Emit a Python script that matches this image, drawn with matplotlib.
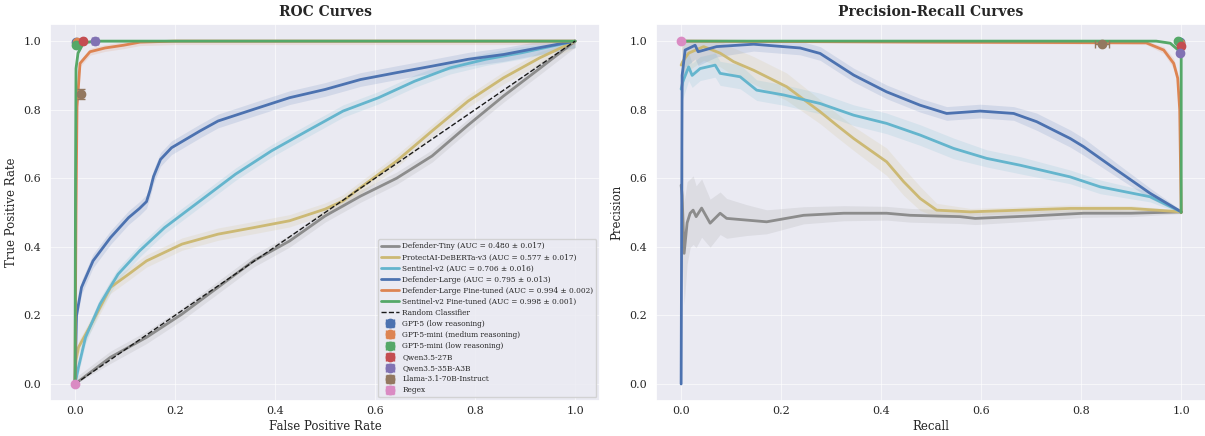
import numpy as np
import matplotlib
matplotlib.use("Agg")
import matplotlib.pyplot as plt
import seaborn as sns

sns.set_theme(style="darkgrid", rc={"grid.alpha": 0.6, "grid.linewidth": 0.8})
plt.rcParams['font.family'] = ['DejaVu Serif']

pal = sns.color_palette("deep")
c_blue, c_orange, c_green, c_red, c_purple, c_brown, c_pink, c_gray, c_yellow, c_cyan = pal

# ---------------- ROC curves (mean) ----------------
tiny_fpr = [0, 0.071, 0.143, 0.214, 0.286, 0.357, 0.429, 0.5, 0.571, 0.643, 0.714, 0.786, 0.857, 0.929, 1.0]
tiny_tpr = [0, 0.078, 0.136, 0.204, 0.282, 0.359, 0.417, 0.49, 0.548, 0.6, 0.665, 0.755, 0.84, 0.92, 1.0]

deb_fpr = [0, 0.002, 0.007, 0.036, 0.071, 0.107, 0.143, 0.214, 0.286, 0.357, 0.429, 0.5, 0.536, 0.571,
           0.643, 0.714, 0.786, 0.857, 0.929, 1.0]
deb_tpr = [0, 0.07, 0.107, 0.184, 0.282, 0.32, 0.359, 0.408, 0.437, 0.456, 0.476, 0.51, 0.534, 0.573,
           0.65, 0.738, 0.825, 0.893, 0.951, 1.0]

sen_fpr = [0, 0.007, 0.021, 0.05, 0.086, 0.129, 0.179, 0.25, 0.321, 0.393, 0.464, 0.536, 0.607, 0.679,
           0.75, 0.821, 0.893, 1.0]
sen_tpr = [0, 0.049, 0.136, 0.233, 0.32, 0.388, 0.456, 0.534, 0.612, 0.68, 0.738, 0.796, 0.835, 0.883,
           0.922, 0.947, 0.966, 1.0]

dl_fpr = [0, 0.003, 0.013, 0.036, 0.071, 0.107, 0.129, 0.143, 0.15, 0.157, 0.171, 0.193, 0.25, 0.286,
          0.357, 0.429, 0.5, 0.571, 0.643, 0.714, 0.786, 0.857, 0.929, 1.0]
dl_tpr = [0, 0.2, 0.282, 0.359, 0.427, 0.485, 0.512, 0.532, 0.565, 0.605, 0.655, 0.689, 0.738, 0.767,
          0.801, 0.835, 0.859, 0.888, 0.908, 0.927, 0.947, 0.961, 0.981, 1.0]

dlft_fpr = [0, 0.002, 0.004, 0.01, 0.03, 0.06, 0.097, 0.13, 0.2, 1.0]
dlft_tpr = [0, 0.5, 0.808, 0.935, 0.969, 0.98, 0.988, 0.997, 1.0, 1.0]

senft_fpr = [0, 0.001, 0.002, 0.006, 0.017, 0.04, 1.0]
senft_tpr = [0, 0.6, 0.92, 0.965, 0.995, 1.0, 1.0]

# std band half-widths (ROC)
roc_std = [0.018, 0.018, 0.018, 0.02, 0.01, 0.004]

roc_labels = [
    "Defender-Tiny (AUC = 0.480 ± 0.017)",
    "ProtectAI-DeBERTa-v3 (AUC = 0.577 ± 0.017)",
    "Sentinel-v2 (AUC = 0.706 ± 0.016)",
    "Defender-Large (AUC = 0.795 ± 0.013)",
    "Defender-Large Fine-tuned (AUC = 0.994 ± 0.002)",
    "Sentinel-v2 Fine-tuned (AUC = 0.998 ± 0.001)",
]

# ---------------- PR curves (mean) ----------------
tiny_rec = [0, 0.002, 0.006, 0.012, 0.018, 0.024, 0.03, 0.041, 0.058, 0.078, 0.091, 0.131, 0.171, 0.245,
            0.325, 0.411, 0.458, 0.558, 0.588, 0.7, 0.805, 0.9, 1.0]
tiny_prec = [0.58, 0.55, 0.381, 0.47, 0.498, 0.507, 0.488, 0.513, 0.469, 0.498, 0.483, 0.478, 0.473, 0.492,
             0.498, 0.498, 0.492, 0.488, 0.483, 0.49, 0.498, 0.498, 0.502]
tiny_prec_sd = [0.2, 0.18, 0.15, 0.12, 0.1, 0.1, 0.09, 0.085, 0.07, 0.062, 0.058, 0.045, 0.035, 0.025,
                0.022, 0.02, 0.02, 0.02, 0.018, 0.015, 0.012, 0.01, 0.005]

deb_rec = [0, 0.003, 0.015, 0.045, 0.078, 0.105, 0.145, 0.211, 0.278, 0.311, 0.345, 0.411, 0.445, 0.478,
           0.511, 0.578, 0.778, 0.9, 1.0]
deb_prec = [0.93, 0.94, 0.965, 0.984, 0.965, 0.94, 0.915, 0.867, 0.794, 0.755, 0.716, 0.648, 0.59, 0.541,
            0.507, 0.502, 0.512, 0.512, 0.502]
deb_prec_sd = [0.06, 0.06, 0.05, 0.04, 0.04, 0.04, 0.04, 0.04, 0.035, 0.035, 0.035, 0.04, 0.04, 0.035,
               0.02, 0.01, 0.01, 0.008, 0.005]

sen_rec = [0, 0.003, 0.015, 0.022, 0.038, 0.068, 0.078, 0.118, 0.151, 0.205, 0.278, 0.345, 0.411, 0.478,
           0.545, 0.611, 0.678, 0.778, 0.838, 0.938, 1.0]
sen_prec = [0.86, 0.88, 0.925, 0.9, 0.92, 0.93, 0.906, 0.896, 0.857, 0.843, 0.818, 0.784, 0.76, 0.726,
            0.687, 0.658, 0.638, 0.604, 0.575, 0.546, 0.502]
sen_prec_sd = [0.06, 0.05, 0.04, 0.035, 0.035, 0.035, 0.035, 0.035, 0.03, 0.03, 0.03, 0.03, 0.03, 0.03,
               0.03, 0.025, 0.025, 0.02, 0.02, 0.015, 0.005]

dl_rec = [0, 0.002, 0.008, 0.028, 0.034, 0.071, 0.145, 0.238, 0.278, 0.345, 0.411, 0.478, 0.531, 0.598,
          0.665, 0.711, 0.778, 0.805, 0.871, 0.938, 1.0]
dl_prec = [0, 0.9, 0.974, 0.988, 0.969, 0.984, 0.991, 0.98, 0.964, 0.901, 0.852, 0.813, 0.789, 0.796,
           0.789, 0.765, 0.716, 0.692, 0.624, 0.556, 0.502]
dl_prec_sd = [0, 0.08, 0.05, 0.04, 0.04, 0.03, 0.02, 0.02, 0.02, 0.02, 0.02, 0.02, 0.02, 0.02, 0.02,
              0.025, 0.025, 0.025, 0.02, 0.015, 0.005]

dlft_rec = [0, 0.5, 0.93, 0.965, 0.985, 0.993, 0.997, 1.0]
dlft_prec = [1.0, 0.997, 0.995, 0.974, 0.935, 0.892, 0.8, 0.5]
dlft_prec_sd = [0.002, 0.003, 0.005, 0.01, 0.015, 0.015, 0.01, 0.005]

senft_rec = [0, 0.95, 0.978, 0.994, 1.0, 1.0]
senft_prec = [1.0, 1.0, 0.994, 0.974, 0.95, 0.5]
senft_prec_sd = [0.001, 0.002, 0.004, 0.005, 0.005, 0.003]

# ---------------- LLM / baseline operating points ----------------
point_labels = ["GPT-5 (low reasoning)", "GPT-5-mini (medium reasoning)", "GPT-5-mini (low reasoning)",
                "Qwen3.5-27B", "Qwen3.5-35B-A3B", "Llama-3.1-70B-Instruct", "Regex"]
point_fpr = [0.001, 0.004, 0.001, 0.016, 0.04, 0.011, 0.0]
point_fpr_err = [0.001, 0.002, 0.001, 0.003, 0.006, 0.002, 0.0]
point_tpr = [0.998, 0.997, 0.99, 1.0, 0.999, 0.845, 0.0]
point_tpr_err = [0.002, 0.002, 0.003, 0.001, 0.002, 0.015, 0.0]
point_rec = [0.997, 0.998, 0.994, 1.0, 0.998, 0.841, 0.0]
point_rec_err = [0.002, 0.002, 0.003, 0.001, 0.002, 0.014, 0.0]
point_prec = [0.998, 0.995, 0.999, 0.987, 0.965, 0.993, 1.0]
point_prec_err = [0.002, 0.002, 0.001, 0.003, 0.004, 0.003, 0.0]

curve_colors = [c_gray, c_yellow, c_cyan, c_blue, c_orange, c_green]
point_colors = [c_blue, c_orange, c_green, c_red, c_purple, c_brown, c_pink]

fig = plt.figure(figsize=(12.05, 4.36), dpi=100)
ax1 = fig.add_axes([0.0415, 0.080, 0.4565, 0.865])
ax2 = fig.add_axes([0.5445, 0.080, 0.4565, 0.865])

# ROC
roc_curves = [(tiny_fpr, tiny_tpr), (deb_fpr, deb_tpr), (sen_fpr, sen_tpr),
              (dl_fpr, dl_tpr), (dlft_fpr, dlft_tpr), (senft_fpr, senft_tpr)]
for (fx, ty), sd, col, lab in zip(roc_curves, roc_std, curve_colors, roc_labels):
    fx = np.array(fx)
    ty = np.array(ty)
    ax1.fill_between(fx, np.clip(ty - sd, 0, 1), np.clip(ty + sd, 0, 1), color=col, alpha=0.15, lw=0)
    ax1.plot(fx, ty, color=col, lw=2, label=lab)

ax1.plot([0, 1], [0, 1], 'k--', lw=1, label="Random Classifier")

for i in range(len(point_labels)):
    ax1.errorbar(point_fpr[i], point_tpr[i], xerr=point_fpr_err[i], yerr=point_tpr_err[i],
                 fmt='o', color=point_colors[i], ms=6, capsize=3, elinewidth=1, zorder=5,
                 label=point_labels[i])

# PR
pr_curves = [(tiny_rec, tiny_prec, tiny_prec_sd), (deb_rec, deb_prec, deb_prec_sd),
             (sen_rec, sen_prec, sen_prec_sd), (dl_rec, dl_prec, dl_prec_sd),
             (dlft_rec, dlft_prec, dlft_prec_sd), (senft_rec, senft_prec, senft_prec_sd)]
for (rx, py, sd), col in zip(pr_curves, curve_colors):
    rx = np.array(rx)
    py = np.array(py)
    sd = np.array(sd)
    ax2.fill_between(rx, np.clip(py - sd, 0, 1), np.clip(py + sd, 0, 1), color=col, alpha=0.15, lw=0)
    ax2.plot(rx, py, color=col, lw=2)

for i in range(len(point_labels)):
    ax2.errorbar(point_rec[i], point_prec[i], xerr=point_rec_err[i], yerr=point_prec_err[i],
                 fmt='o', color=point_colors[i], ms=6, capsize=3, elinewidth=1, zorder=5)

for ax, title, xl, yl in [(ax1, "ROC Curves", "False Positive Rate", "True Positive Rate"),
                          (ax2, "Precision-Recall Curves", "Recall", "Precision")]:
    ax.set_xlim(-0.05, 1.05)
    ax.set_ylim(-0.05, 1.05)
    ax.set_xlabel(xl, fontsize=8.5, labelpad=3)
    ax.set_ylabel(yl, fontsize=8.5, labelpad=4)
    ax.set_title(title, fontsize=10, fontweight='bold', pad=6)
    ax.tick_params(axis='x', labelsize=8, length=0, pad=3.5)
    ax.tick_params(axis='y', labelsize=8, length=0, pad=6.5)

ax1.legend(loc='lower right', fontsize=5.3, labelspacing=0.42, handlelength=2.4,
           handletextpad=0.5, borderpad=0.4, framealpha=0.8)

fig.savefig("out.png", dpi=100)
